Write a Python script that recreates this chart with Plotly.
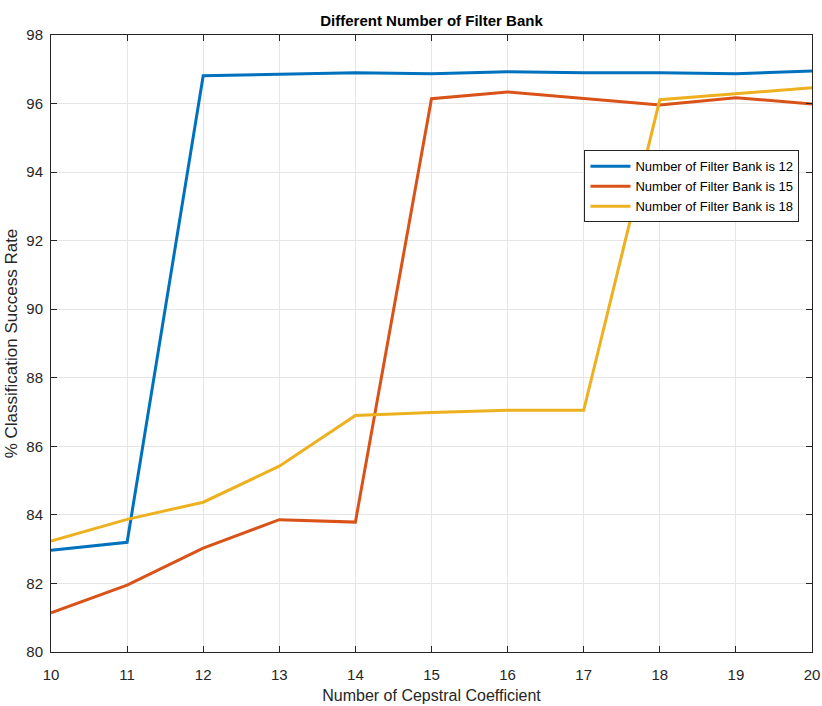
import plotly.graph_objects as go

x_vals = [10, 11, 12, 13, 14, 15, 16, 17, 18, 19, 20]
bank12 = [82.97, 83.2, 96.81, 96.86, 96.9, 96.87, 96.93, 96.9, 96.9, 96.87, 96.95]
bank15 = [81.14, 81.95, 83.03, 83.86, 83.79, 96.14, 96.34, 96.15, 95.96, 96.17, 95.99]
bank18 = [83.24, 83.87, 84.37, 85.42, 86.9, 86.99, 87.05, 87.05, 96.11, 96.29, 96.46]
names = ["Number of Filter Bank is 12", "Number of Filter Bank is 15", "Number of Filter Bank is 18"]
colors = ["#0072BD", "#D95319", "#EDB120"]

fig = go.Figure()
for ys, nm, c in zip([bank12, bank15, bank18], names, colors):
    fig.add_trace(go.Scatter(x=x_vals, y=ys, mode="lines", name=nm,
                             line=dict(color=c, width=3)))

font = "Liberation Sans, Arial, sans-serif"
axis_common = dict(showline=True, linecolor="#262626", linewidth=1, mirror="ticks",
                   ticks="inside", ticklen=6, tickcolor="#262626", automargin=False,
                   showgrid=True, gridcolor="#e6e6e6", gridwidth=1, zeroline=False,
                   tickfont=dict(family=font, size=15, color="#262626"))
fig.update_layout(
    width=822, height=706,
    margin=dict(l=51, r=10, t=35, b=54),
    paper_bgcolor="white", plot_bgcolor="white",
    title=dict(text="<b>Different Number of Filter Bank</b>", x=0.5, xanchor="center",
               xref="paper", y=0.971, yanchor="middle",
               font=dict(family=font, size=15, color="black")),
    xaxis=dict(range=[10, 20], dtick=1, tick0=10, ticklabelstandoff=9,
               title=dict(text="Number of Cepstral Coefficient", standoff=7,
                          font=dict(family=font, size=16, color="#262626")),
               **axis_common),
    yaxis=dict(range=[80, 98], dtick=2, tick0=80, ticklabelstandoff=4,
               title=dict(text="% Classification Success Rate", standoff=4,
                          font=dict(family=font, size=17, color="#262626")),
               **axis_common),
    legend=dict(x=0.701, y=0.813, xanchor="left", yanchor="top",
                bgcolor="white", bordercolor="#262626", borderwidth=1,
                font=dict(family=font, size=13, color="black"),
                tracegroupgap=0, itemwidth=40),
    showlegend=True,
)
fig.write_html("out.html")
